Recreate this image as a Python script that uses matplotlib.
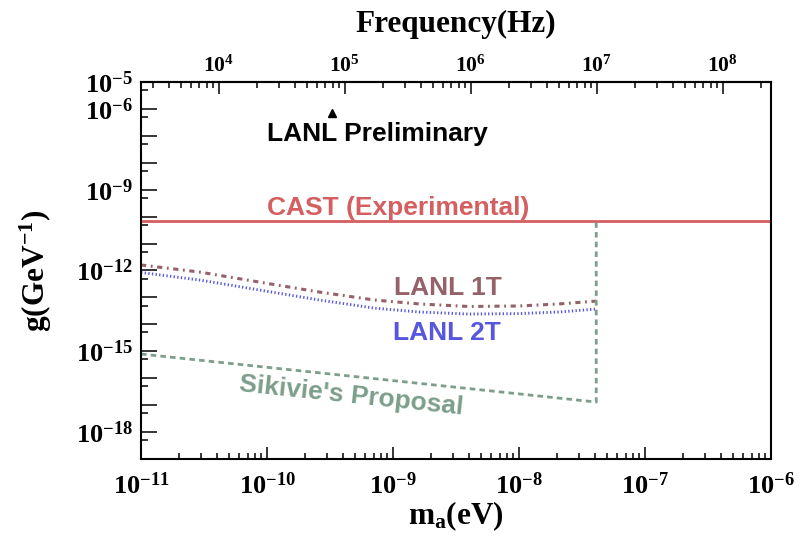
import math
import matplotlib
matplotlib.use('Agg')
import matplotlib.pyplot as plt
from matplotlib.ticker import FixedLocator, FuncFormatter, NullFormatter

plt.rcParams['font.family'] = 'serif'
plt.rcParams['font.serif'] = ['Liberation Serif', 'DejaVu Serif']
plt.rcParams['font.weight'] = 'bold'
plt.rcParams['mathtext.fontset'] = 'custom'
plt.rcParams['mathtext.rm'] = 'Liberation Serif:bold'
plt.rcParams['mathtext.bf'] = 'Liberation Serif:bold'
plt.rcParams['mathtext.it'] = 'Liberation Serif:bold:italic'

# data (axion mass in eV, coupling in GeV^-1)
cast_mass = [1e-11, 1e-6]
cast_g = [6.6e-11, 6.6e-11]

lanl_mass = [1e-11, 2.93e-11, 8.7e-11, 2.6e-10, 7.1e-10, 1.62e-9, 4.0e-9, 1.0e-8, 2.07e-8, 4.1e-8]
lanl1t_g = [1.6e-12, 8.7e-13, 3.7e-13, 1.58e-13, 8.0e-14, 5.7e-14, 4.6e-14, 4.8e-14, 5.7e-14, 7.3e-14]
lanl2t_g = [8.4e-13, 4.4e-13, 1.88e-13, 8.0e-14, 4.0e-14, 2.86e-14, 2.41e-14, 2.5e-14, 2.86e-14, 3.7e-14]

sikivie_mass = [1e-11, 4.1e-8, 4.1e-8]
sikivie_g = [7.9e-16, 1.3e-17, 6.6e-11]

prelim_mass = [3.25e-10]
prelim_g = [7.1e-7]

x_decades = [-11, -10, -9, -8, -7, -6]
y_decades = list(range(-19, -4))
y_labelled = [-5, -6, -9, -12, -15, -18]
f_decades = [4, 5, 6, 7, 8]
ev_to_hz = 2.418e14

c_cast = '#d55e60'
c_1t = '#946268'
c_2t = '#5656e0'
c_sik = '#7c9e8a'


def decade_label(v, pos):
    e = round(math.log10(v))
    return r'$\mathdefault{10^{%d}}$' % e


def y_label(v, pos):
    e = round(math.log10(v))
    return decade_label(v, pos) if e in y_labelled else ''


fig = plt.figure(figsize=(8.05, 5.36), dpi=100)
ax = fig.add_axes([0.1752, 0.1437, 0.7826, 0.7034])

ax.plot(cast_mass, cast_g, color=c_cast, lw=2.0, solid_capstyle='butt')
ax.plot(lanl_mass, lanl1t_g, color=c_1t, lw=2.2, linestyle=(0, (1.7, 1.5, 0.6, 1.5)))
ax.plot(lanl_mass, lanl2t_g, color=c_2t, lw=2.1, linestyle=(0, (0.45, 0.8)))
ax.plot(sikivie_mass, sikivie_g, color=c_sik, lw=2.0, linestyle=(0, (2.0, 1.5)))
ax.plot(prelim_mass, prelim_g, marker='^', color='black', markersize=6, linestyle='none')

ax.set_xscale('log')
ax.set_yscale('log')
ax.set_xlim(1e-11, 1e-6)
ax.set_ylim(1e-19, 1e-5)

# y ticks: long at every decade, short at 5x10^n, labels only some decades
ax.yaxis.set_major_locator(FixedLocator([10.0 ** e for e in y_decades]))
ax.yaxis.set_major_formatter(FuncFormatter(y_label))
ax.yaxis.set_minor_locator(FixedLocator([5 * 10.0 ** e for e in y_decades[:-1]]))
ax.yaxis.set_minor_formatter(NullFormatter())

ax.xaxis.set_major_locator(FixedLocator([10.0 ** e for e in x_decades]))
ax.xaxis.set_major_formatter(FuncFormatter(decade_label))
ax.xaxis.set_minor_locator(FixedLocator([k * 10.0 ** e for e in x_decades[:-1] for k in range(2, 10)]))
ax.xaxis.set_minor_formatter(NullFormatter())

ax.tick_params(axis='y', which='major', direction='in', length=11.5, width=1.1,
               labelsize=19, pad=6, right=False)
ax.tick_params(axis='y', which='minor', direction='in', length=5, width=1.1, right=False)
ax.tick_params(axis='x', which='major', direction='in', length=8.6, width=1.1,
               labelsize=19, pad=10, top=False)
ax.tick_params(axis='x', which='minor', direction='in', length=4.3, width=1.1, top=False)
for s in ax.spines.values():
    s.set_linewidth(1.5)

# frequency axis on top
sec = ax.secondary_xaxis('top', functions=(lambda m: m * ev_to_hz, lambda f: f / ev_to_hz))
sec.xaxis.set_major_locator(FixedLocator([10.0 ** e for e in f_decades]))
sec.xaxis.set_major_formatter(FuncFormatter(decade_label))
sec.xaxis.set_minor_locator(FixedLocator([k * 10.0 ** e for e in [3] + f_decades for k in range(2, 10)
                                          if 2.418e3 < k * 10.0 ** e < 2.418e8]))
sec.xaxis.set_minor_formatter(NullFormatter())
sec.tick_params(axis='x', which='major', direction='in', length=8.6, width=1.1,
                labelsize=15.5, pad=4)
sec.tick_params(axis='x', which='minor', direction='in', length=4.5, width=1.1)
sec.spines['top'].set_linewidth(1.5)
sec.set_xlabel('Frequency(Hz)', fontsize=22.5, fontweight='bold', labelpad=17)

ax.set_xlabel(r'm$_{\mathdefault{a}}$(eV)', fontsize=22.5, fontweight='bold', labelpad=0)
ax.set_ylabel(r'g(GeV$^{\mathdefault{-1}}$)', fontsize=22.5, fontweight='bold', labelpad=16)

sans = 'Liberation Sans'
ax.text(0.375, 0.862, 'LANL Preliminary', transform=ax.transAxes, ha='center', va='center',
        fontsize=19, fontweight='bold', family=sans, color='black')
ax.text(0.408, 0.666, 'CAST (Experimental)', transform=ax.transAxes, ha='center', va='center',
        fontsize=19, fontweight='bold', family=sans, color=c_cast)
ax.text(0.4865, 0.4536, 'LANL 1T', transform=ax.transAxes, ha='center', va='center',
        fontsize=19, fontweight='bold', family=sans, color=c_1t)
ax.text(0.486, 0.334, 'LANL 2T', transform=ax.transAxes, ha='center', va='center',
        fontsize=19, fontweight='bold', family=sans, color=c_2t)
ax.text(0.334, 0.168, "Sikivie's Proposal", transform=ax.transAxes, ha='center', va='center',
        rotation=-6, rotation_mode='anchor', fontsize=19, fontweight='bold', family=sans,
        color=c_sik)

fig.savefig('out.png', dpi=100)
